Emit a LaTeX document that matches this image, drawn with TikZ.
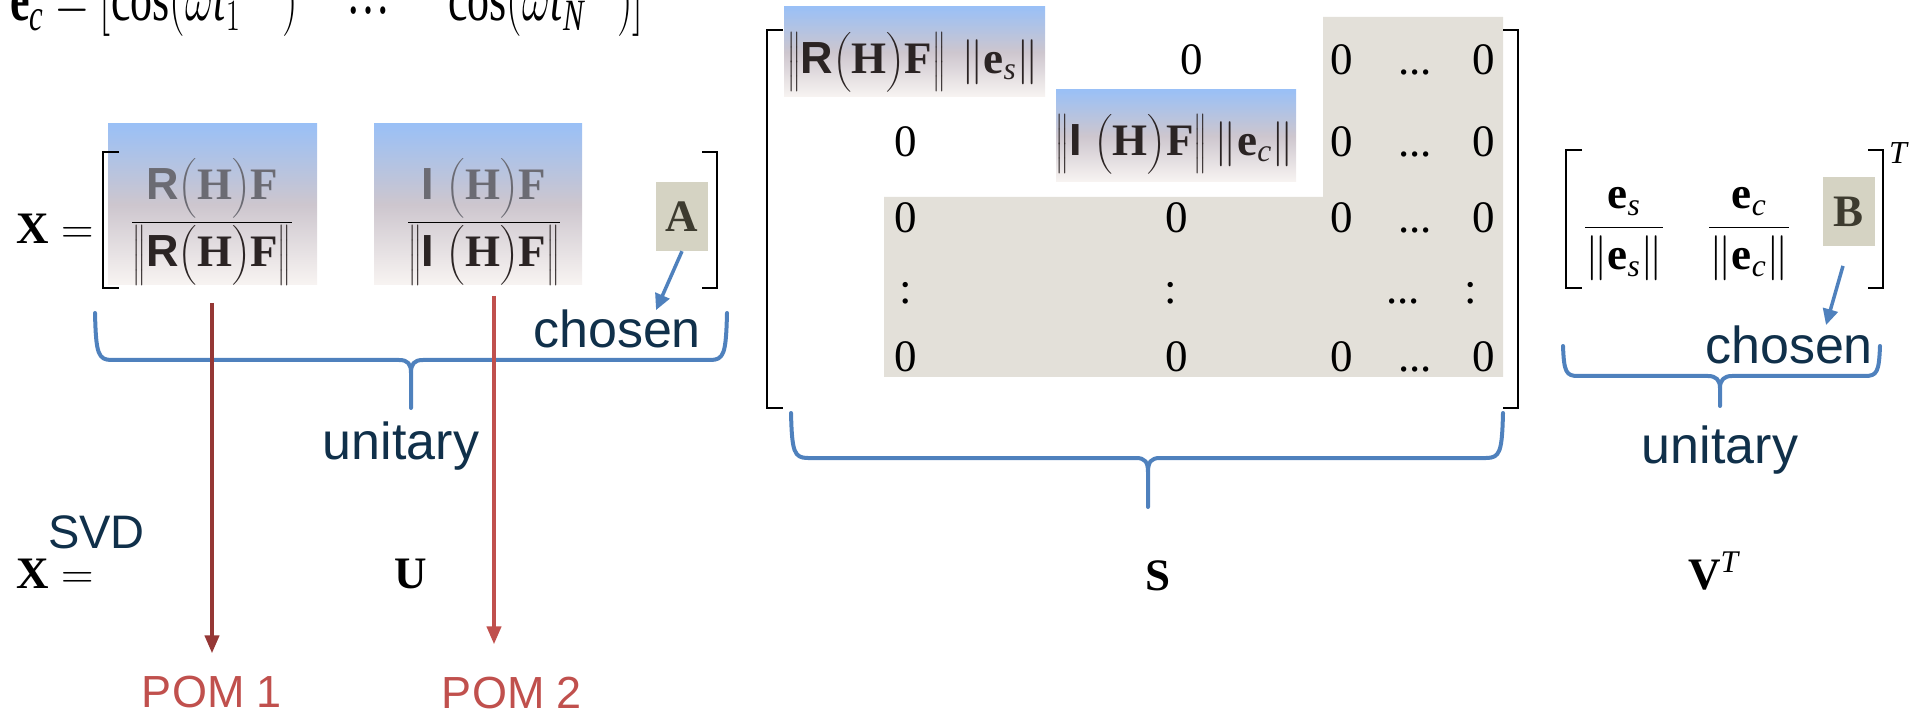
\RequirePackage{fix-cm}
\documentclass[tikz,border=0pt]{standalone}
\usepackage{amsmath}
\usepackage{fontspec}
\setmainfont{Liberation Serif}
\setsansfont{Liberation Sans}
\usepackage{tikz}
\usetikzlibrary{arrows.meta,calc}
\definecolor{navytext}{HTML}{10304A}
\definecolor{pomred}{HTML}{C0504D}
\definecolor{pomdark}{HTML}{953735}
\definecolor{braceblue}{HTML}{4F81BD}
\definecolor{fadeblue}{HTML}{9AC0F6}
\definecolor{fademid}{HTML}{CDC6CE}
\definecolor{fadelow}{HTML}{F8F4F2}
\definecolor{zerobg}{HTML}{E3E0D9}
\definecolor{pickbg}{HTML}{D5D3C3}
\definecolor{pickfg}{HTML}{3D3B2F}
\definecolor{numgray}{HTML}{6B6B73}
\definecolor{dengray}{HTML}{2B2424}

\newcommand{\RHF}{\textsf{\textbf{R}}\bigl(\mathbf{H}\bigr)\mathbf{F}}
\newcommand{\IHF}{\textsf{\textbf{I}}\;\bigl(\mathbf{H}\bigr)\mathbf{F}}
\newcommand{\nrm}[1]{\left\|#1\right\|}

\begin{document}
\begin{tikzpicture}[x=1pt,y=-1pt,
  mth/.style={inner sep=0pt,font=\fontsize{45}{54}\selectfont},
  big/.style={inner sep=0pt,font=\fontsize{44}{52}\selectfont},
  navy/.style={inner sep=0pt,text=navytext,font=\fontsize{52}{60}\selectfont\sffamily},
  pom/.style={inner sep=0pt,text=pomred,font=\fontsize{45}{54}\selectfont\sffamily},
  brk/.style={line width=2.4pt},
  bluebrace/.style={draw=braceblue,line width=4pt,line cap=round,line join=round},
  pointer/.style={draw=braceblue,line width=3.5pt,-{Triangle[length=16pt,width=15pt]}},
  pomarrow/.style={line width=4pt,-{Triangle[length=18pt,width=14pt]}},
  pick/.style={fill=pickbg,text=pickfg,minimum width=52pt,minimum height=69pt,inner sep=0pt,font=\fontsize{45}{54}\selectfont\bfseries},
  gradbox/.style={top color=fadeblue,bottom color=fadelow,middle color=fademid}]
\useasboundingbox (0,0) rectangle (1915,711);
\clip (0,0) rectangle (1915,711);

\node[big,anchor=base west,yscale=1.45] (ec) at (10,21) {$\mathbf{e}_{\mathit{c}}=[\cos(\omega\mathit{t}_1\hspace{0.95em})\hspace{1.1em}\raisebox{0.12em}{…}\hspace{1.15em}\cos(\omega\mathit{t}_{\mathit{N}}\hspace{0.75em})]$};

\shade[gradbox] (108,124) rectangle (317,285);
\shade[gradbox] (374,124) rectangle (582,285);
\draw[brk] (119,152) -- (103,152) -- (103,288) -- (119,288);
\draw[brk] (702,152) -- (717,152) -- (717,288) -- (702,288);
\node[mth,anchor=west] (xlhs) at (16,229) {$\mathbf{X}=$};
\node[mth] (frR) at (212,222) {$\dfrac{\color{numgray}\RHF}{\color{dengray}\nrm{\RHF}}$};
\node[mth] (frI) at (484,222) {$\dfrac{\color{numgray}\IHF}{\color{dengray}\nrm{\IHF}}$};
\node[pick] (boxA) at (682,216.5) {A};
\node[navy,anchor=base west] (chosenA) at (533,348) {chosen};
\draw[pointer] (boxA.south) -- ($(chosenA.north)+(39,0)$);
\draw[bluebrace] (95,313) .. controls (96,354) and (98,360) .. (112,360) -- (399,360) .. controls (408,360) and (411,364) .. (411,373) -- (411,408)
  (727,313) .. controls (726,354) and (724,360) .. (710,360) -- (423,360) .. controls (414,360) and (411,364) .. (411,373);
\node[navy,anchor=base] (unitA) at (401,459) {unitary};

\coordinate (drop1) at (212,303);
\coordinate (drop2) at (494,296);
\node[pom,anchor=base] (pom1) at (212,707) {POM 1};
\node[pom,anchor=base] (pom2) at (512,708) {POM 2};
\draw[pomarrow,pomdark,shorten >=22pt] (drop1) -- (drop1 |- pom1.north);
\draw[pomarrow,pomred,shorten >=32pt] (drop2) -- (drop2 |- pom2.north);

\node[mth,anchor=base west] (xsvd) at (16,588) {$\mathbf{X}=$};
\node[navy,font=\fontsize{47}{56}\selectfont\sffamily,anchor=base west] (svd) at (48,548) {SVD};
\node[mth,anchor=base] (umat) at (411,588) {$\mathbf{U}$};

\fill[zerobg] (1323,17) -- (1503,17) -- (1503,377) -- (884,377) -- (884,197) -- (1323,197) -- cycle;
\shade[gradbox] (784,7) rectangle (1045,97);
\shade[gradbox] (1056,90) rectangle (1296,182);
\draw[brk] (783,30) -- (767,30) -- (767,408) -- (783,408);
\draw[brk] (1503,30) -- (1518,30) -- (1518,408) -- (1503,408);
\node[mth,text=dengray] (sv1) at (913,62) {$\nrm{\RHF}\,\nrm{\mathbf{e}_{\mathit{s}}}$};
\node[mth,anchor=base] (s12) at (1192,75) {0};
\node[mth,anchor=base] (s21) at (906,157) {0};
\node[mth,text=dengray] (sv2) at (1175,144) {$\nrm{\IHF}\nrm{\mathbf{e}_{\mathit{c}}}$};
\foreach \r/\y in {1/75,2/157,3/233,5/372} {
  \node[mth,anchor=base] (s\r3) at (1342,\y) {0};
  \node[mth,anchor=base] (s\r4) at (1415,\y) {...};
  \node[mth,anchor=base] (s\r5) at (1484,\y) {0};
}
\foreach \r/\y in {3/233,5/372} {
  \node[mth,anchor=base] (s\r1) at (906,\y) {0};
  \node[mth,anchor=base] (s\r2) at (1177,\y) {0};
}
\node[mth,anchor=base] (s41) at (906,304) {:};
\node[mth,anchor=base] (s42) at (1171,304) {:};
\node[mth,anchor=base] (s44) at (1403,304) {...};
\node[mth,anchor=base] (s45) at (1471,304) {:};
\draw[bluebrace] (791,413) .. controls (792,452) and (794,458) .. (808,458) -- (1136,458) .. controls (1145,458) and (1148,462) .. (1148,472) -- (1148,507)
  (1503,413) .. controls (1502,452) and (1500,458) .. (1486,458) -- (1160,458) .. controls (1151,458) and (1148,462) .. (1148,472);
\node[mth,anchor=base] (smat) at (1158,590) {$\mathbf{S}$};

\draw[brk] (1582,150) -- (1566,150) -- (1566,288) -- (1582,288);
\draw[brk] (1868,150) -- (1883,150) -- (1883,288) -- (1868,288);
\node[inner sep=0pt,font=\fontsize{32}{38}\selectfont] (vt) at (1898,153) {$\mathit{T}$};
\node[mth] (frs) at (1624,234) {$\dfrac{\mathbf{e}_{\mathit{s}}}{\nrm{\mathbf{e}_{\mathit{s}}}}$};
\node[mth] (frc) at (1749,234) {$\dfrac{\mathbf{e}_{\mathit{c}}}{\nrm{\mathbf{e}_{\mathit{c}}}}$};
\node[pick] (boxB) at (1848.5,212) {B};
\node[navy,anchor=base west] (chosenB) at (1705,363) {chosen};
\draw[pointer,shorten <=20pt] (boxB.south) -- ($(chosenB.north)+(37,0)$);
\draw[bluebrace] (1563,346) .. controls (1564,372) and (1566,376) .. (1578,376) -- (1708,376) .. controls (1716,376) and (1720,380) .. (1720,388) -- (1720,406)
  (1880,346) .. controls (1879,372) and (1877,376) .. (1865,376) -- (1732,376) .. controls (1724,376) and (1720,380) .. (1720,388);
\node[navy,anchor=base] (unitB) at (1720,463) {unitary};
\node[mth,anchor=base west] (vmat) at (1688,589) {$\mathbf{V}^{\mathit{T}}$};
\end{tikzpicture}
\end{document}
